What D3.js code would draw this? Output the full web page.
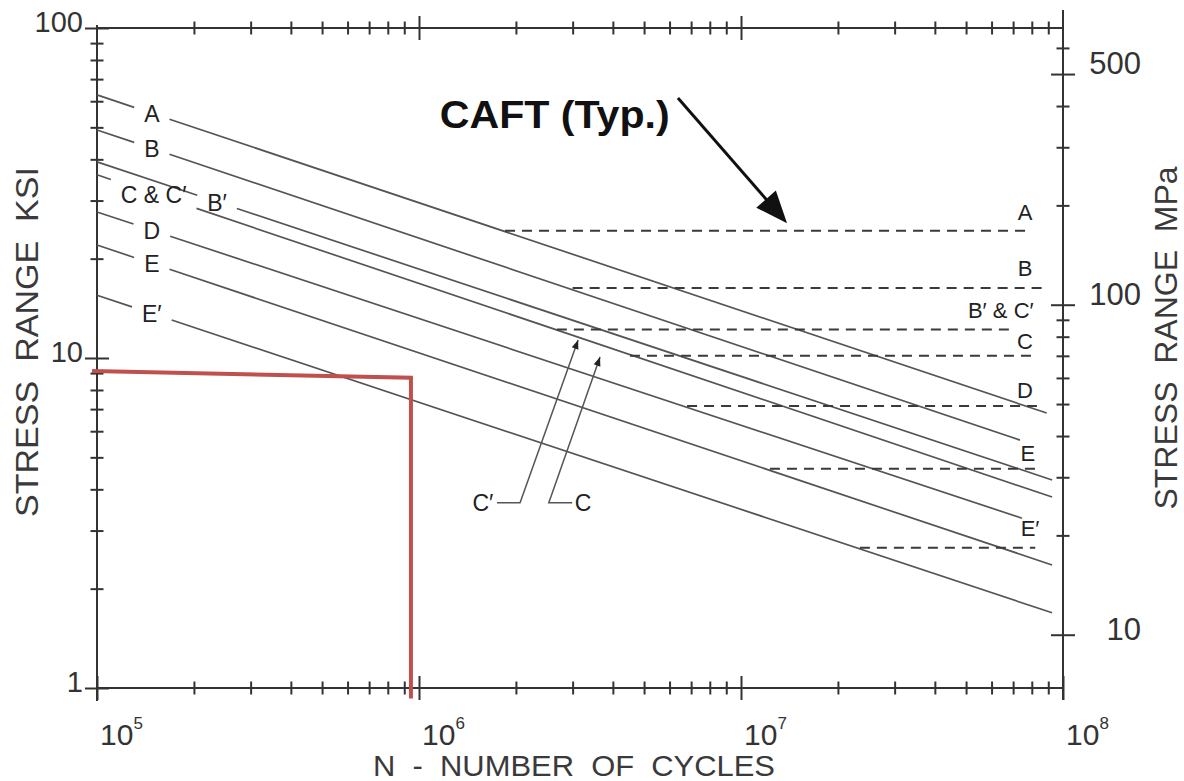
<!DOCTYPE html>
<html><head><meta charset="utf-8">
<script src="https://cdn.jsdelivr.net/npm/d3@7"></script>
<style>body{margin:0;background:#fff} svg{display:block} .pre{white-space:pre}</style>
</head><body><svg id="c" width="1184" height="781"></svg>
<script>
// ---------- data ----------
const categories   = ["A","B","B′","C & C′","D","E","E′"];
const startN       = [1e5,1e5,1e5,1e5,1e5,1e5,1e5];
const startKsi     = [62.7,49.1,39.3,35.9,27.7,22.0,15.5];
const endN         = [8.9e7,7.35e7,9.25e7,9.25e7,7.46e7,9.25e7,9.25e7];
const endKsi       = [6.81,5.64,4.27,3.79,3.27,2.36,1.69];
const labelN       = [1.48e5,1.48e5,2.36e5,1.5e5,1.48e5,1.48e5,1.48e5];

const caftLabels   = ["A","B","B′ & C′","C","D","E","E′"];
const caftKsi      = [24.3,16.3,12.2,10.15,7.15,4.62,2.66];
const caftStartN   = [1.85e6,3.0e6,2.68e6,4.52e6,6.8e6,1.23e7,2.34e7];
const caftEndN     = [7.9e7,8.8e7,7.0e7,8.07e7,8.3e7,8.6e7,8.2e7];
const caftLabelN   = [7.62e7,7.62e7,6.41e7,7.62e7,7.62e7,7.78e7,7.9e7];
const caftLabelKsi = [27.7,18.7,13.98,11.26,8.0,5.15,3.05];

const redN   = [0.965e5, 9.44e5, 9.44e5];
const redKsi = [9.13, 8.72, 0.93];

const xTickExp        = ["5","6","7","8"];
const xMajor          = [1e5,1e6,1e7,1e8];
const ksiMajor        = [1,10,100];
const ksiTickLabels   = ["1","10","100"];
const mpaMajor        = [10,100,500];
const mpaTickLabels   = ["10","100","500"];

const caftText  = "CAFT (Typ.)";
const caftTextPos = [1.16e6, 49.8];
const caftArrow = [[6.37e6, 61.4],[1.39e7, 25.6]];
const leaderCp  = {label:"C′", labelPos:[1.58e6,3.64], pts:[[1.746e6,3.64],[2.06e6,3.64],[3.12e6,11.34]]};
const leaderC   = {label:"C",  labelPos:[3.23e6,3.64], pts:[[2.99e6,3.64],[2.53e6,3.64],[3.65e6,10.07]]};

// ---------- scales ----------
const svg = d3.select("#c");
const x  = d3.scaleLog().domain([1e5,1e8]).range([97,1063]);
const y  = d3.scaleLog().domain([1,100]).range([688,28]);
const yM = d3.scaleLog().domain([6.895,689.5]).range([688,28]);
const FONT = "'Liberation Sans', Arial, sans-serif";
const AX = "#333";
const isMajor = d => Math.abs(Math.log10(d) - Math.round(Math.log10(d))) < 1e-9;

// ---------- axes frame ----------
const frame = svg.append("g").attr("stroke", AX).attr("stroke-width", 2).attr("fill","none");
frame.append("line").attr("x1", x(1e5)).attr("x2", x(1e5)).attr("y1", y(100)-3).attr("y2", y(1)+13);
frame.append("line").attr("x1", x(1e8)).attr("x2", x(1e8)).attr("y1", y(100)-18).attr("y2", y(1)+12);
frame.append("line").attr("x1", x(1e5)).attr("x2", x(1e8)).attr("y1", y(1)).attr("y2", y(1));
frame.append("line").attr("x1", x(1e5)).attr("x2", x(1e8)).attr("y1", y(100)).attr("y2", y(100));

function crossTicks(g, horizontal, majorFn) {
  g.select(".domain").remove();
  g.selectAll(".tick text").remove();
  g.selectAll(".tick line").each(function(d){
    const L = majorFn(d) ? 12 : 6.5;
    const s = d3.select(this).attr("stroke", AX).attr("stroke-width", 2);
    if (horizontal) s.attr("y1", -L).attr("y2", L).attr("x1",0).attr("x2",0);
    else s.attr("x1", -L).attr("x2", L).attr("y1",0).attr("y2",0);
  });
}
const xt = x.ticks();
svg.append("g").attr("transform", `translate(0,${y(1)})`)
  .call(d3.axisBottom(x).tickValues(xt).tickFormat(""))
  .call(g => crossTicks(g, true, isMajor));
svg.append("g").attr("transform", `translate(0,${y(100)})`)
  .call(d3.axisTop(x).tickValues(xt.filter(d => d>1e5 && d<1e8)).tickFormat(""))
  .call(g => crossTicks(g, true, isMajor));
svg.append("g").attr("transform", `translate(${x(1e5)},0)`)
  .call(d3.axisLeft(y).tickValues(y.ticks()).tickFormat(""))
  .call(g => crossTicks(g, false, isMajor));
const mt = yM.ticks().filter(d => d >= 10);
svg.append("g").attr("transform", `translate(${x(1e8)},0)`)
  .call(d3.axisRight(yM).tickValues(mt).tickFormat(""))
  .call(g => crossTicks(g, false, d => mpaMajor.includes(d)));

// ---------- tick labels ----------
const tl = svg.append("g").attr("font-family", FONT).attr("fill", "#333");
ksiMajor.forEach((v,i) => {
  tl.append("text").attr("x", x(1e5)-14).attr("y", y(v)+4)
    .attr("text-anchor","end").attr("font-size", 29).text(ksiTickLabels[i]);
});
mpaMajor.forEach((v,i) => {
  tl.append("text").attr("x", x(1e8)+78).attr("y", yM(v)+(v===10?5:0))
    .attr("text-anchor","end").attr("font-size", 31).text(mpaTickLabels[i]);
});
xMajor.forEach((v,i) => {
  const t = tl.append("text").attr("x", x(v)+3).attr("y", y(1)+57).attr("font-size", 30);
  t.append("tspan").text("10");
  t.append("tspan").attr("font-size", 17).attr("dy", -16).text(xTickExp[i]);
});

// axis titles
const ttl = svg.append("g").attr("font-family", FONT).attr("fill", "#3a3a3a");
ttl.append("text").attr("class","pre").attr("xml:space","preserve")
  .attr("x", 574).attr("y", 776).attr("text-anchor","middle")
  .attr("font-size", 29).attr("textLength", 402).attr("lengthAdjust","spacingAndGlyphs")
  .text("N  -  NUMBER  OF  CYCLES");
ttl.append("text").attr("class","pre").attr("xml:space","preserve")
  .attr("transform", "translate(38,342) rotate(-90)").attr("text-anchor","middle")
  .attr("font-size", 32).attr("textLength", 350).attr("lengthAdjust","spacingAndGlyphs")
  .text("STRESS  RANGE  KSI");
ttl.append("text").attr("class","pre").attr("xml:space","preserve")
  .attr("transform", "translate(1177,338) rotate(-90)").attr("text-anchor","middle")
  .attr("font-size", 31).attr("textLength", 343).attr("lengthAdjust","spacingAndGlyphs")
  .text("STRESS  RANGE  MPa");

// ---------- S-N curves ----------
const line = d3.line().x(d => x(d[0])).y(d => y(d[1]));
const curves = svg.append("g").attr("fill","none").attr("stroke","#555").attr("stroke-width",1.7);
const labs = svg.append("g").attr("font-family", FONT).attr("fill","#222").attr("font-size", 23)
  .attr("text-anchor","middle");
categories.forEach((c,i) => {
  const ksAt = n => Math.pow(10, Math.log10(startKsi[i]) + (Math.log10(endKsi[i])-Math.log10(startKsi[i])) *
             (Math.log10(n)-Math.log10(startN[i])) / (Math.log10(endN[i])-Math.log10(startN[i])));
  const p0 = [startN[i], startKsi[i]], p1 = [endN[i], endKsi[i]];
  const t = labs.append("text").attr("x", x(labelN[i])).attr("y", y(ksAt(labelN[i]))+9).text(c);
  const half = t.node().getComputedTextLength()/2 + 10;
  const lx0 = x.invert(x(labelN[i]) - half), lx1 = x.invert(x(labelN[i]) + half);
  curves.append("path").attr("d", line([p0, [lx0, ksAt(lx0)]]));
  curves.append("path").attr("d", line([[lx1, ksAt(lx1)], p1]));
});

// ---------- CAFT dashed lines ----------
const dash = svg.append("g").attr("fill","none").attr("stroke","#3a3a3a").attr("stroke-width",2)
  .attr("stroke-dasharray","10,7");
const clab = svg.append("g").attr("font-family", FONT).attr("fill","#222").attr("font-size", 22)
  .attr("text-anchor","middle");
caftLabels.forEach((c,i) => {
  dash.append("path").attr("d", line([[caftStartN[i], caftKsi[i]],[caftEndN[i], caftKsi[i]]]));
  clab.append("text").attr("x", x(caftLabelN[i])).attr("y", y(caftLabelKsi[i])+8).text(c);
});

// ---------- leaders C′ and C ----------
const lead = svg.append("g");
function arrowHead(g, from, to, len, hw, fill) {
  const a = Math.atan2(to[1]-from[1], to[0]-from[0]);
  const bx = to[0] - len*Math.cos(a), by = to[1] - len*Math.sin(a);
  const px = -Math.sin(a)*hw, py = Math.cos(a)*hw;
  g.append("path").attr("d", `M${to[0]},${to[1]}L${bx+px},${by+py}L${bx-px},${by-py}Z`).attr("fill", fill);
}
[leaderCp, leaderC].forEach(L => {
  lead.append("path").attr("d", line(L.pts)).attr("fill","none").attr("stroke","#555").attr("stroke-width",1.5);
  const pp = L.pts.map(p => [x(p[0]), y(p[1])]);
  arrowHead(lead, pp[1], pp[2], 9, 3.5, "#222");
  lead.append("text").attr("x", x(L.labelPos[0])).attr("y", y(L.labelPos[1])+8)
    .attr("text-anchor","middle").attr("font-family", FONT).attr("font-size", 23).attr("fill","#222").text(L.label);
});

// ---------- CAFT annotation ----------
svg.append("text").attr("x", x(caftTextPos[0])).attr("y", y(caftTextPos[1]))
  .attr("font-family", FONT).attr("font-weight","bold").attr("font-size", 39).attr("fill","#111")
  .attr("textLength", 230).attr("lengthAdjust","spacingAndGlyphs").text(caftText);
const a0 = [x(caftArrow[0][0]), y(caftArrow[0][1])], a1 = [x(caftArrow[1][0]), y(caftArrow[1][1])];
const ang = Math.atan2(a1[1]-a0[1], a1[0]-a0[0]);
svg.append("line").attr("x1", a0[0]).attr("y1", a0[1])
  .attr("x2", a1[0]-28*Math.cos(ang)).attr("y2", a1[1]-28*Math.sin(ang))
  .attr("stroke","#111").attr("stroke-width",3);
arrowHead(svg, a0, a1, 32, 13, "#111");

// ---------- red overlay ----------
svg.append("path").attr("d", line(redN.map((n,i) => [n, redKsi[i]])))
  .attr("fill","none").attr("stroke","#c0504d").attr("stroke-width",4).attr("stroke-linejoin","miter");
</script></body></html>
